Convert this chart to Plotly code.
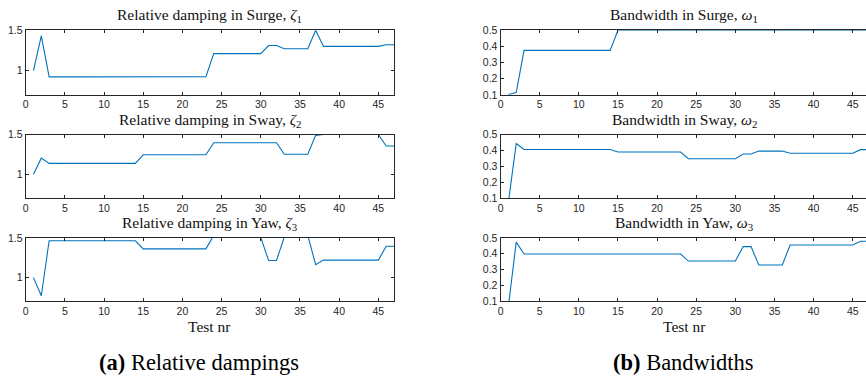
import plotly.graph_objects as go

test_nr = list(range(1, 48))

zeta_surge = [1.0, 1.43] + [0.923]*12 + [0.926]*9 + [1.21]*7 + [1.31]*2 + [1.27]*4 + [1.5] + [1.30]*8 + [1.32]*2
zeta_sway = [1.0, 1.203] + [1.137]*12 + [1.245]*9 + [1.397]*9 + [1.252]*4 + [1.49] + [1.5]*8 + [1.356]*2
zeta_yaw = [1.0, 0.772] + [1.463]*12 + [1.361]*9 + [1.53]*6 + [1.505] + [1.215]*2 + [1.51] + [1.53]*3 + [1.162] + [1.22]*8 + [1.394]*2

omega_surge = [0.102, 0.114] + [0.375]*12 + [0.5]*33
omega_sway = [0.075, 0.443] + [0.406]*12 + [0.39]*9 + [0.348]*7 + [0.378]*2 + [0.396]*4 + [0.382]*9 + [0.405]*2
omega_yaw = [0.07, 0.473] + [0.398]*21 + [0.354]*7 + [0.445]*2 + [0.329]*4 + [0.455]*9 + [0.479]*2

left_titles = ["Relative damping in Surge, <i>ζ</i><sub>1</sub>",
               "Relative damping in Sway, <i>ζ</i><sub>2</sub>",
               "Relative damping in Yaw, <i>ζ</i><sub>3</sub>"]
right_titles = ["Bandwidth in Surge, <i>ω</i><sub>1</sub>",
                "Bandwidth in Sway, <i>ω</i><sub>2</sub>",
                "Bandwidth in Yaw, <i>ω</i><sub>3</sub>"]
x_ticks = [0, 5, 10, 15, 20, 25, 30, 35, 40, 45]
left_yticks = [1, 1.5]
right_yticks = [0.1, 0.2, 0.3, 0.4, 0.5]
xlabel = "Test nr"
captions = ["<b>(a)</b> Relative dampings", "<b>(b)</b> Bandwidths"]

W, H = 866, 385
LINE = "#0072BD"
AX = "#262626"
SERIF = "Liberation Serif, Times New Roman, serif"
SANS = "Liberation Sans, Arial, sans-serif"

left_dom = [22.7 / W, 392.4 / W]
right_dom = [499.3 / W, 1.0]
rows_px = [(25, 91.7), (132.7, 198.3), (239.3, 305)]
row_dom = [[1 - b / H, 1 - t / H] for t, b in rows_px]

fig = go.Figure()
layout = dict(width=W, height=H, margin=dict(l=0, r=0, t=0, b=0),
              paper_bgcolor="white", plot_bgcolor="white", showlegend=False)
annotations = []

left_series = [zeta_surge, zeta_sway, zeta_yaw]
right_series = [omega_surge, omega_sway, omega_yaw]

idx = 0
for col in range(2):
    for r in range(3):
        idx += 1
        xa = "xaxis" if idx == 1 else f"xaxis{idx}"
        ya = "yaxis" if idx == 1 else f"yaxis{idx}"
        xr = "x" if idx == 1 else f"x{idx}"
        yr = "y" if idx == 1 else f"y{idx}"
        ys = left_series[r] if col == 0 else right_series[r]
        fig.add_trace(go.Scatter(x=test_nr, y=ys, mode="lines",
                                 line=dict(color=LINE, width=1.1),
                                 xaxis=xr, yaxis=yr, hoverinfo="skip"))
        xdom = left_dom if col == 0 else right_dom
        xrange = [0, 47] if col == 0 else [0, (W - 499.3) / 7.853]
        layout[xa] = dict(domain=xdom, range=xrange, anchor=yr,
                          tickvals=x_ticks, ticks="inside", ticklen=3,
                          tickcolor=AX, showline=True, linecolor=AX, linewidth=1,
                          mirror="ticks", showgrid=False, zeroline=False,
                          tickfont=dict(family=SANS, size=10.5, color=AX))
        if col == 0:
            layout[ya] = dict(domain=row_dom[r], range=[0.7, 1.5], anchor=xr,
                              tickvals=left_yticks, ticktext=["1", "1.5"],
                              ticks="inside", ticklen=3, tickcolor=AX,
                              showline=True, linecolor=AX, linewidth=1,
                              mirror="ticks", showgrid=False, zeroline=False,
                              tickfont=dict(family=SANS, size=10.5, color=AX))
        else:
            layout[ya] = dict(domain=row_dom[r], range=[0.1, 0.5], anchor=xr,
                              tickvals=right_yticks,
                              ticks="inside", ticklen=3, tickcolor=AX,
                              showline=True, linecolor=AX, linewidth=1,
                              mirror=False, showgrid=False, zeroline=False,
                              tickfont=dict(family=SANS, size=10.5, color=AX))
        title = left_titles[r] if col == 0 else right_titles[r]
        annotations.append(dict(text=title, xref="paper", yref="paper",
                                x=(xdom[0] + xdom[1]) / 2 if col == 0 else (499.3 + 868.4) / 2 / W,
                                y=row_dom[r][1], xanchor="center", yanchor="bottom",
                                yshift=3, showarrow=False,
                                font=dict(family=SERIF, size=15.5, color="#111111")))

for col in range(2):
    cx = (22.7 + 392.4) / 2 / W if col == 0 else (499.3 + 868.4) / 2 / W
    annotations.append(dict(text=xlabel, xref="paper", yref="paper", x=cx,
                            y=1 - 319.5 / H, xanchor="center", yanchor="top",
                            showarrow=False, font=dict(family=SERIF, size=15.5, color="#111111")))
    ccx = 197 / W if col == 0 else 683 / W
    annotations.append(dict(text=captions[col], xref="paper", yref="paper", x=ccx,
                            y=1 - 368 / H, xanchor="center", yanchor="middle",
                            showarrow=False, font=dict(family=SERIF, size=22.5, color="black")))

layout["annotations"] = annotations
fig.update_layout(**layout)
fig.write_html("out.html")
